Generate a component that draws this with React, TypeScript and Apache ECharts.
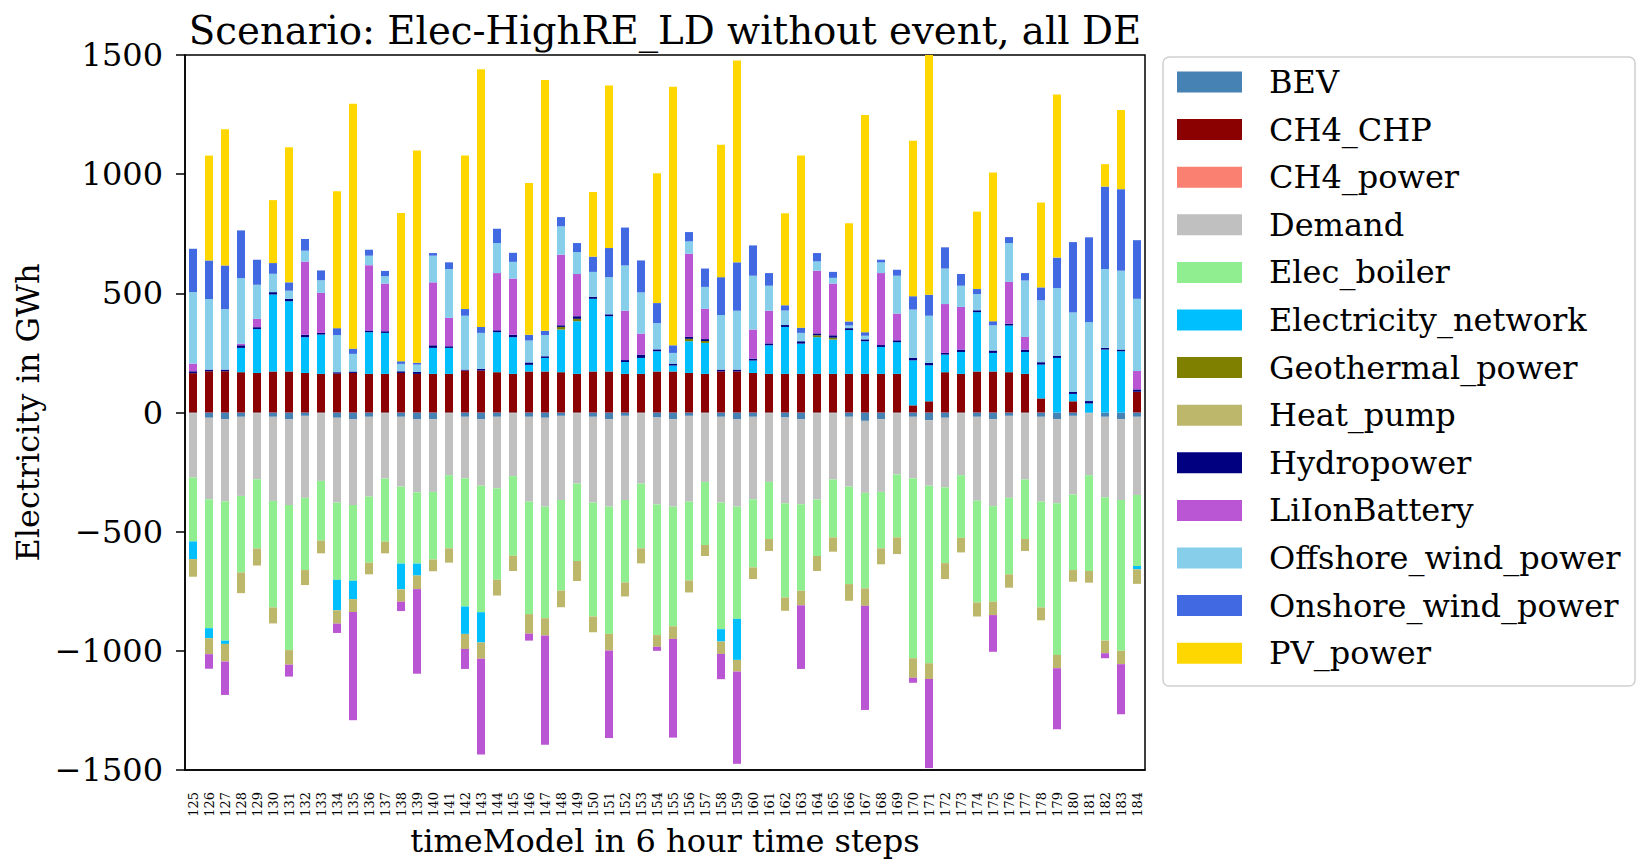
import React, { useEffect, useRef } from "react";
import * as echarts from "echarts";

const categories = [
  "125","126","127","128","129","130","131","132","133","134","135","136","137","138","139",
  "140","141","142","143","144","145","146","147","148","149","150","151","152","153","154",
  "155","156","157","158","159","160","161","162","163","164","165","166","167","168","169",
  "170","171","172","173","174","175","176","177","178","179","180","181","182","183","184",
];

const BEV = [
  -3,-22,-28,-18,-3,-18,-29,-14,-3,-22,-29,-18,-3,-18,-29,
  -28,-3,-18,-29,-18,-3,-18,-22,-14,-3,-18,-28,-14,-3,-21,
  -28,-14,-3,-18,-29,-18,-3,-21,-29,-3,-3,-18,-35,-28,-3,
  -18,-32,-22,-3,-18,-28,-14,-3,-18,-28,-14,-3,-18,-28,-18,
];
const CH4_CHP = [
  165,173,173,169,166,172,172,166,162,163,166,162,162,166,162,
  162,162,176,176,169,162,172,172,169,162,172,172,162,162,172,
  172,166,162,172,172,166,162,162,162,162,162,162,162,162,162,
  30,47,169,162,172,172,169,162,59,0,47,0,0,0,87,
];
const CH4_power: number[] = [];
const Demand = [
  -270,-342,-344,-332,-277,-353,-359,-344,-284,-356,-359,-335,-274,-293,-306,
  -305,-260,-258,-278,-300,-264,-356,-373,-353,-295,-360,-367,-353,-295,-365,
  -367,-360,-288,-360,-366,-346,-288,-360,-356,-362,-278,-293,-302,-305,-257,
  -258,-275,-292,-260,-352,-365,-344,-278,-356,-353,-330,-260,-338,-339,-328,
];
const Elec_boiler = [
  -268,-541,-585,-321,-291,-447,-609,-303,-251,-324,-318,-277,-265,-323,-299,
  -284,-307,-538,-531,-384,-334,-472,-468,-380,-325,-478,-534,-346,-272,-548,
  -502,-331,-265,-531,-471,-286,-240,-395,-363,-237,-243,-409,-401,-237,-264,
  -755,-745,-318,-263,-427,-401,-321,-250,-444,-636,-317,-402,-601,-633,-298,
];
const Electricity_network = [
  -74,-42,-14,102,184,323,295,150,165,-128,-77,175,172,-108,-50,
  109,109,-115,-127,168,154,28,57,179,221,305,232,50,67,85,
  25,133,130,-52,-172,52,120,197,127,154,144,184,137,113,133,
  189,151,74,92,249,78,196,92,142,229,31,38,264,257,-14,
];
const Geothermal_power = [
  0,0,0,0,0,0,0,0,0,0,0,0,0,0,0,
  0,0,0,0,0,0,0,0,11,10,0,0,0,0,0,
  0,10,8,0,0,0,0,0,0,8,8,0,0,0,0,
  0,0,0,0,0,0,0,0,0,0,0,0,0,0,0,
];
const Heat_pump = [
  -74,-67,-74,-87,-71,-67,-61,-63,-53,-56,-54,-49,-49,-52,-57,
  -49,-60,-63,-68,-66,-64,-82,-73,-70,-84,-66,-70,-59,-63,-49,
  -53,-50,-46,-52,-49,-49,-50,-56,-61,-63,-60,-70,-73,-67,-70,
  -82,-66,-67,-61,-59,-56,-56,-50,-54,-56,-49,-49,-53,-56,-61,
];
const Hydropower = [
  8,7,7,11,8,10,10,10,7,6,6,7,7,7,8,
  11,7,4,7,8,10,10,7,7,11,8,8,8,14,8,
  8,8,8,8,8,8,8,8,10,8,10,8,8,8,8,
  10,10,7,10,8,10,8,10,10,8,8,10,7,7,10,
];
const LiIonBattery = [
  32,-61,-140,7,35,0,-50,307,168,-39,-454,274,200,-39,-355,
  264,119,-84,-402,240,236,-29,-458,296,177,0,-367,207,88,-17,
  -414,349,127,-106,-387,122,137,0,-267,263,217,0,-437,302,112,
  -21,-374,205,179,0,-154,175,53,0,-256,0,0,-21,-210,77,
];
const Offshore_wind_power = [
  300,296,254,275,143,77,34,46,53,156,74,40,31,31,31,
  112,205,226,151,126,70,92,89,119,92,105,156,190,173,110,
  45,52,92,229,247,226,105,61,35,39,24,11,15,45,159,
  203,198,149,89,68,106,163,237,260,285,334,331,331,331,303,
];
const Onshore_wind_power = [
  182,162,183,200,105,45,35,49,41,29,22,25,22,11,8,
  11,28,28,25,60,38,24,18,39,38,64,122,159,134,84,
  32,39,77,159,203,127,53,22,22,35,25,17,15,11,25,
  56,88,89,49,21,17,25,31,54,128,295,356,346,342,246,
];
const PV_power = [
  0,440,571,0,0,264,567,0,0,574,1027,0,0,622,890,
  0,0,644,1081,0,0,637,1052,0,0,271,682,0,0,545,
  1085,0,0,555,847,0,0,386,722,0,0,412,911,0,0,
  652,1006,0,0,325,624,0,0,356,684,0,0,94,332,0,
];

const seriesNames = [
  "BEV","CH4_CHP","CH4_power","Demand","Elec_boiler","Electricity_network",
  "Geothermal_power","Heat_pump","Hydropower","LiIonBattery",
  "Offshore_wind_power","Onshore_wind_power","PV_power",
];
const seriesData = [
  BEV, CH4_CHP, CH4_power, Demand, Elec_boiler, Electricity_network,
  Geothermal_power, Heat_pump, Hydropower, LiIonBattery,
  Offshore_wind_power, Onshore_wind_power, PV_power,
];
const seriesColors = [
  "#4682B4","#8B0000","#FA8072","#C0C0C0","#90EE90","#00BFFF",
  "#808000","#BDB76B","#000080","#BA55D3","#87CEEB","#4169E1","#FFD700",
];

const yTicks = { min: -1500, max: 1500, interval: 500 };
const FONT = "DejaVu Serif";

export default function App() {
  const ref = useRef<HTMLDivElement>(null);
  useEffect(() => {
    if (!ref.current) return;
    const chart = echarts.init(ref.current, undefined, { renderer: "svg" });
    const gridLeft = 185, gridTop = 55, gridW = 960, gridH = 715;
    chart.setOption({
      animation: false,
      backgroundColor: "#fff",
      grid: {
        left: gridLeft, top: gridTop, width: gridW, height: gridH,
        show: true, borderColor: "#000", borderWidth: 1.5, backgroundColor: "transparent",
      },
      graphic: [
        {
          type: "text", x: gridLeft + gridW / 2, y: 30, z: 10,
          style: {
            text: "Scenario: Elec-HighRE_LD without event, all DE",
            fontSize: 38.7, fontFamily: FONT, fill: "#000",
            align: "center", verticalAlign: "middle",
          },
        },
        {
          type: "rect", z: 0,
          shape: { x: 1163, y: 57, width: 472, height: 629, r: 6 },
          style: { fill: "#fff", stroke: "#d0d0d0", lineWidth: 1.5 },
        },
      ],
      legend: {
        orient: "vertical", left: 1177, top: 66, padding: 0, z: 20,
        itemWidth: 65, itemHeight: 21, itemGap: 15.6, icon: "rect",
        selectedMode: false,
        textStyle: {
          fontSize: 32, fontFamily: FONT, color: "#000",
          padding: [0, 0, 0, 22],
        },
        data: seriesNames,
      },
      xAxis: {
        type: "category", data: categories,
        name: "timeModel in 6 hour time steps", nameLocation: "middle", nameGap: 55,
        nameTextStyle: { fontSize: 32, fontFamily: FONT, color: "#000" },
        axisLine: { onZero: false, lineStyle: { color: "#000", width: 1.5 } },
        axisTick: { alignWithLabel: true, length: 9, lineStyle: { color: "#000", width: 1.5 } },
        axisLabel: { rotate: 90, interval: 0, fontSize: 13, fontFamily: FONT, color: "#000", margin: 22 },
        splitLine: { show: false },
      },
      yAxis: {
        type: "value", min: yTicks.min, max: yTicks.max, interval: yTicks.interval,
        name: "Electricity in GWh", nameLocation: "middle", nameGap: 140, nameRotate: 90,
        nameTextStyle: { fontSize: 32, fontFamily: FONT, color: "#000" },
        axisLine: { show: true, lineStyle: { color: "#000", width: 1.5 } },
        axisTick: { show: true, length: 9, lineStyle: { color: "#000", width: 1.5 } },
        axisLabel: {
          fontSize: 32, fontFamily: FONT, color: "#000", margin: 22,
          formatter: (v: number) => (v < 0 ? "\u2212" + Math.abs(v) : String(v)),
        },
        splitLine: { show: false },
      },
      series: seriesNames.map((name, i) => ({
        name, type: "bar", stack: "total", data: seriesData[i],
        barWidth: "50%",
        itemStyle: { color: seriesColors[i] },
        emphasis: { disabled: true },
      })),
    });
    return () => chart.dispose();
  }, []);
  return (
    <div
      ref={ref}
      style={{ position: "absolute", left: 0, top: 0, width: 1641, height: 867 }}
    />
  );
}
